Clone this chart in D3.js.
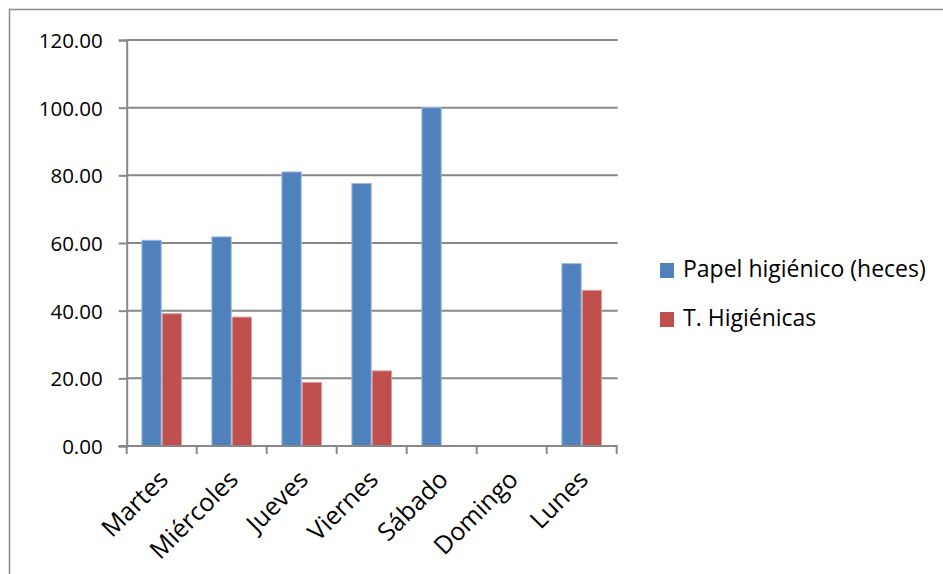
<!DOCTYPE html>
<html>
<head>
<meta charset="utf-8">
<script src="https://cdn.jsdelivr.net/npm/d3@7"></script>
<style>
  html, body { margin: 0; padding: 0; background: #fff; }
  svg { display: block; }
  text { font-family: "Open Sans", "Noto Sans", sans-serif; fill: #000; }
</style>
</head>
<body>
<svg id="chart" width="943" height="574"></svg>
<script>
// Días de la semana y porcentajes por serie
const days = ["Martes", "Miércoles", "Jueves", "Viernes", "Sábado", "Domingo", "Lunes"];
const seriesNames = ["Papel higiénico (heces)", "T. Higiénicas"];
const papel = [60.8, 61.8, 81.0, 77.6, 100.0, null, 53.9];
const toallas = [39.1, 38.1, 18.8, 22.2, null, null, 46.0];
const yTicks = [0, 20, 40, 60, 80, 100, 120];

const colors = ["#4F81BD", "#C0504D"];
const edgeColors = ["#9DB7DC", "#DE9C9A"];
const gridColor = "#888888";

const svg = d3.select("#chart");

// Marco exterior del gráfico
svg.append("path")
  .attr("d", "M9.5,600 L9.5,9.5 L960,9.5")
  .attr("fill", "none")
  .attr("stroke", "#8a8a8a")
  .attr("stroke-width", 1.5);

const plot = { left: 126.7, right: 616.7, top: 40, bottom: 446 };

const x = d3.scaleBand()
  .domain(days)
  .range([plot.left, plot.right])
  .paddingInner(0.42)
  .paddingOuter(0.21);

const xs = d3.scaleBand()
  .domain(seriesNames)
  .range([0, x.bandwidth()]);

const y = d3.scaleLinear()
  .domain([0, 120])
  .range([plot.bottom, plot.top]);

// Líneas de cuadrícula horizontales
svg.append("g")
  .selectAll("line")
  .data(yTicks.filter(d => d > 0))
  .join("line")
  .attr("x1", plot.left)
  .attr("x2", plot.right + 1)
  .attr("y1", d => y(d))
  .attr("y2", d => y(d))
  .attr("stroke", gridColor)
  .attr("stroke-width", 2);

// Barras
const rows = days.map((d, i) => ({ day: d, values: [papel[i], toallas[i]] }));
svg.append("g")
  .selectAll("g")
  .data(rows)
  .join("g")
  .attr("transform", d => `translate(${x(d.day)},0)`)
  .selectAll("rect")
  .data(d => d.values.map((v, k) => ({ v, k })).filter(e => e.v != null))
  .join("rect")
  .attr("x", e => xs(seriesNames[e.k]) + 0.5)
  .attr("width", xs.bandwidth() - 1)
  .attr("y", e => y(e.v))
  .attr("height", e => y(0) - y(e.v))
  .attr("fill", e => colors[e.k])
  .attr("stroke", e => edgeColors[e.k])
  .attr("stroke-width", 1);

// Eje Y
const yAxis = svg.append("g")
  .attr("transform", `translate(${plot.left},0)`)
  .call(d3.axisLeft(y).tickValues(yTicks).tickFormat(d3.format(".2f")).tickSize(8).tickPadding(16));
yAxis.select(".domain").attr("stroke", gridColor).attr("stroke-width", 2);
yAxis.selectAll(".tick line").attr("stroke", gridColor).attr("stroke-width", 2);
yAxis.selectAll(".tick text")
  .style("font-size", "20.5px")
  .attr("dy", "0.36em");

// Eje X: línea base, marcas entre categorías y etiquetas giradas
const xAxis = svg.append("g")
  .attr("transform", `translate(0,${plot.bottom})`);
xAxis.append("line")
  .attr("x1", plot.left - 8)
  .attr("x2", plot.right + 1)
  .attr("stroke", gridColor)
  .attr("stroke-width", 2);
const bounds = d3.range(days.length + 1).map(i => plot.left + i * x.step());
xAxis.selectAll("line.tick")
  .data(bounds)
  .join("line")
  .attr("class", "tick")
  .attr("x1", d => d)
  .attr("x2", d => d)
  .attr("y1", 0)
  .attr("y2", 8)
  .attr("stroke", gridColor)
  .attr("stroke-width", 2);
xAxis.selectAll("text")
  .data(days)
  .join("text")
  .attr("text-anchor", "end")
  .attr("transform", d => `translate(${x(d) + x.bandwidth() / 2 + 8},${35}) rotate(-45)`)
  .style("font-size", "25px")
  .text(d => d);

// Leyenda
const legend = svg.append("g").attr("transform", "translate(660,263)");
const items = legend.selectAll("g")
  .data(seriesNames)
  .join("g")
  .attr("transform", (d, i) => `translate(0,${i * 49})`);
items.append("rect")
  .attr("width", 14)
  .attr("height", 15)
  .attr("fill", (d, i) => colors[i]);
items.append("text")
  .attr("x", 23)
  .attr("y", 14)
  .style("font-size", "23px")
  .text(d => d);
</script>
</body>
</html>
